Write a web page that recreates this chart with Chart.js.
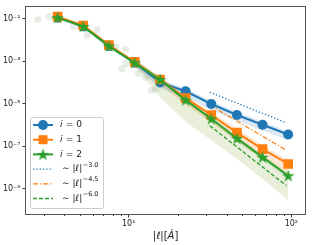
<!DOCTYPE html>
<html>
<head>
<meta charset="utf-8">
<script src="https://cdn.jsdelivr.net/npm/chart.js@4.4.0/dist/chart.umd.min.js"></script>
<style>
  html, body { margin: 0; padding: 0; background: #fff; }
  #wrap { width: 312px; height: 245px; }
</style>
</head>
<body>
<div id="wrap"><canvas id="myChart" width="312" height="245"></canvas></div>
<script>
// |l| in Angstrom, shared by the three series
const ellValues = [3.66, 5.26, 7.56, 10.9, 15.6, 22.4, 32.2, 46.3, 66.5, 95.6];
const series0 = [0.111, 0.0427, 0.00507, 8.3e-4, 9.9e-5, 3.8e-5, 9.5e-6, 2.9e-6, 1.0e-6, 3.5e-7];
const series1 = [0.124, 0.0474, 0.00564, 9.2e-4, 1.36e-4, 1.8e-5, 2.9e-6, 4.3e-7, 7.1e-8, 1.43e-8];
const series2 = [0.111, 0.0427, 0.00507, 8.3e-4, 1.36e-4, 1.45e-5, 1.92e-6, 2.28e-7, 3.0e-8, 4.0e-9];

// spread bands, from the 4th point on
const bandX = [10.9, 15.6, 22.4, 32.2, 46.3, 66.5, 95.6];
const band0Hi = [1.14e-3, 1.36e-4, 5.2e-5, 1.31e-5, 4.05e-6, 1.40e-6, 4.8e-7];
const band0Lo = [5.4e-4, 5.2e-5, 2.0e-5, 5.0e-6, 1.55e-6, 5.35e-7, 1.85e-7];
const band1Hi = [1.27e-3, 1.87e-4, 2.47e-5, 4.05e-6, 6.6e-7, 1.08e-7, 2.19e-8];
const band1Lo = [6.0e-4, 7.2e-5, 8.5e-6, 1.25e-6, 1.66e-7, 2.44e-8, 4.0e-9];
const band2Hi = [1.14e-3, 1.87e-4, 2.0e-5, 2.64e-6, 3.14e-7, 4.15e-8, 5.5e-9];
const band2Lo = [6.0e-4, 9.9e-5, 1.05e-5, 1.40e-6, 1.66e-7, 2.19e-8, 2.9e-9];
// faint cloud of single samples under the i=2 curve
const cloudTop = [8.3e-4, 1.36e-4, 1.45e-5, 1.92e-6, 2.28e-7, 3.0e-8, 4.0e-9];
const cloudLow = [6.0e-4, 2.0e-5, 1.40e-6, 1.85e-7, 2.44e-8, 2.9e-9, 2.8e-10];
// scattered faint samples at small |l|
const faintX = [2.77, 3.23, 4.58, 5.56, 6.40, 8.34, 9.59, 9.59, 9.07, 11.5, 12.7, 13.8, 14.6];
const faintY = [0.090, 0.124, 0.0427, 0.0164, 0.031, 0.00456, 0.00368, 7.5e-4, 4.4e-4, 2.57e-4, 1.68e-4, 4.2e-5, 4.7e-5];

// power law guides
const guideX = [31.5, 93];
const guide30 = [3.4e-5, 1.25e-6];
const guide45 = [8.5e-6, 6.35e-8];
const guide60 = [9.1e-7, 1.38e-9];

const xTicks = [10, 100];
const xTickLabels = ['10¹', '10²'];
const xMinorTicks = [3, 4, 5, 6, 7, 8, 9, 20, 30, 40, 50, 60, 70, 80, 90];
const yTicks = [1e-9, 1e-7, 1e-5, 1e-3, 1e-1];
const yTickLabels = ['10⁻⁹', '10⁻⁷', '10⁻⁵', '10⁻³', '10⁻¹'];

const BLUE = '#1f77b4';
const ORANGE = '#ff7f0e';
const GREEN = '#2ca02c';

Chart.defaults.font.family = "'DejaVu Sans', sans-serif";
Chart.defaults.color = '#222';

function pts(xs, ys) {
    return xs.map((x, i) => ({ x: x, y: ys[i] }));
}

function makeStar(color, size) {
    const c = document.createElement('canvas');
    c.width = size;
    c.height = size;
    const g = c.getContext('2d');
    const R = size / 2, r = R * 0.4;
    g.beginPath();
    for (let k = 0; k < 10; k++) {
        const rad = k % 2 === 0 ? R : r;
        const a = -Math.PI / 2 + k * Math.PI / 5;
        const px = R + rad * Math.cos(a), py = R + 0.5 + rad * Math.sin(a);
        if (k === 0) g.moveTo(px, py); else g.lineTo(px, py);
    }
    g.closePath();
    g.fillStyle = color;
    g.fill();
    return c;
}
const starImg = makeStar(GREEN, 13);

function bandPair(hi, lo, fillColor, order) {
    return [
        { data: pts(bandX, hi), borderWidth: 0, pointRadius: 0, fill: false, order: order },
        { data: pts(bandX, lo), borderWidth: 0, pointRadius: 0, fill: '-1', backgroundColor: fillColor, order: order }
    ];
}

const frameAndTicks = {
    id: 'frameAndTicks',
    afterDatasetsDraw(chart) {
        const { ctx, chartArea: a, scales } = chart;
        ctx.save();
        ctx.strokeStyle = '#333';
        ctx.lineWidth = 1;
        ctx.beginPath();
        xMinorTicks.forEach(v => {
            const px = Math.round(scales.x.getPixelForValue(v)) + 0.5;
            ctx.moveTo(px, a.bottom);
            ctx.lineTo(px, a.bottom + 2);
        });
        ctx.stroke();
        ctx.strokeStyle = '#555';
        ctx.strokeRect(Math.round(a.left) - 0.5, Math.round(a.top) - 0.5,
            Math.round(a.right - a.left) + 1, Math.round(a.bottom - a.top) + 1);
        // axis title
        ctx.fillStyle = '#222';
        ctx.textBaseline = 'middle';
        const cx = (a.left + a.right) / 2;
        const parts = [['|', 'normal'], ['ℓ', 'italic'], ['|[', 'normal'], ['Ȧ', 'italic'], [']', 'normal']];
        let total = 0;
        parts.forEach(p => { ctx.font = p[1] + " 10px 'DejaVu Sans'"; total += ctx.measureText(p[0]).width; });
        let tx = cx - total / 2;
        ctx.textAlign = 'left';
        parts.forEach(p => {
            ctx.font = p[1] + " 10px 'DejaVu Sans'";
            ctx.fillText(p[0], tx, 236);
            tx += ctx.measureText(p[0]).width;
        });
        ctx.restore();
    }
};

const legendEntries = [
    { color: BLUE, marker: 'circle', dash: [], label: '0' },
    { color: ORANGE, marker: 'square', dash: [], label: '1' },
    { color: GREEN, marker: 'star', dash: [], label: '2' },
    { color: BLUE, marker: null, dash: [1.3, 2], label: '−3.0' },
    { color: ORANGE, marker: null, dash: [5, 2, 1.3, 2], label: '−4.5' },
    { color: GREEN, marker: null, dash: [4, 2], label: '−6.0' }
];

const boxLegend = {
    id: 'boxLegend',
    afterDraw(chart) {
        const ctx = chart.ctx;
        const bx = 30.5, by = 117.5, bw = 73, bh = 91;
        ctx.save();
        ctx.beginPath();
        ctx.roundRect(bx, by, bw, bh, 2);
        ctx.fillStyle = 'rgba(255,255,255,0.8)';
        ctx.fill();
        ctx.strokeStyle = '#cccccc';
        ctx.lineWidth = 1;
        ctx.stroke();
        legendEntries.forEach((e, i) => {
            const y = 125 + i * 14.7;
            ctx.strokeStyle = e.color;
            ctx.fillStyle = e.color;
            ctx.lineWidth = e.marker ? 2 : 1.3;
            ctx.setLineDash(e.dash);
            ctx.beginPath();
            ctx.moveTo(33, y);
            ctx.lineTo(53, y);
            ctx.stroke();
            ctx.setLineDash([]);
            if (e.marker === 'circle') {
                ctx.beginPath();
                ctx.arc(43, y, 5, 0, Math.PI * 2);
                ctx.fill();
            } else if (e.marker === 'square') {
                ctx.fillRect(38.5, y - 4.5, 9, 9);
            } else if (e.marker === 'star') {
                ctx.drawImage(starImg, 43 - starImg.width / 2, y - starImg.height / 2);
            }
            ctx.fillStyle = '#222';
            ctx.textBaseline = 'middle';
            ctx.textAlign = 'left';
            if (e.marker) {
                ctx.font = "italic 9px 'DejaVu Sans'";
                ctx.fillText('i', 60, y);
                ctx.font = "9px 'DejaVu Sans'";
                ctx.fillText(' = ' + e.label, 63, y);
            } else {
                ctx.font = "9px 'DejaVu Sans'";
                ctx.fillText('∼ |', 62, y);
                let tx = 62 + ctx.measureText('∼ |').width;
                ctx.font = "italic 9px 'DejaVu Sans'";
                ctx.fillText('ℓ', tx, y);
                tx += ctx.measureText('ℓ').width;
                ctx.font = "9px 'DejaVu Sans'";
                ctx.fillText('|', tx, y);
                tx += ctx.measureText('|').width;
                ctx.font = "6.5px 'DejaVu Sans'";
                ctx.fillText(e.label, tx + 0.5, y - 4);
            }
        });
        ctx.restore();
    }
};

const datasets = [
    ...bandPair(band0Hi, band0Lo, 'rgba(31,119,180,0.17)', 6),
    ...bandPair(band1Hi, band1Lo, 'rgba(255,127,14,0.17)', 6),
    { data: pts(bandX, cloudTop), borderWidth: 0, pointRadius: 0, fill: false, order: 7 },
    { data: pts(bandX, cloudLow), borderWidth: 0, pointRadius: 0, fill: '-1', backgroundColor: 'rgba(150,175,80,0.2)', order: 7 },
    ...bandPair(band2Hi, band2Lo, 'rgba(44,160,44,0.17)', 6),
    { data: pts(faintX, faintY), showLine: false, pointRadius: 3.5, pointBorderWidth: 0,
      pointBackgroundColor: 'rgba(150,175,140,0.22)', order: 5 },
    { data: pts(guideX, guide30), borderColor: BLUE, borderWidth: 1.3, borderDash: [1.3, 2], pointRadius: 0, fill: false, order: 4 },
    { data: pts(guideX, guide45), borderColor: ORANGE, borderWidth: 1.3, borderDash: [5, 2, 1.3, 2], pointRadius: 0, fill: false, order: 4 },
    { data: pts(guideX, guide60), borderColor: GREEN, borderWidth: 1.3, borderDash: [4, 2], pointRadius: 0, fill: false, order: 4 },
    { data: pts(ellValues, series0), borderColor: BLUE, backgroundColor: BLUE, borderWidth: 2,
      pointStyle: 'circle', pointRadius: 5, pointBorderWidth: 0, fill: false, order: 2 },
    { data: pts(ellValues, series1), borderColor: ORANGE, backgroundColor: ORANGE, borderWidth: 2,
      pointStyle: 'rect', pointRadius: 6.8, pointBorderWidth: 0, fill: false, order: 1 },
    { data: pts(ellValues, series2), borderColor: GREEN, backgroundColor: GREEN, borderWidth: 2,
      pointStyle: starImg, pointRadius: 6, pointBorderWidth: 0, fill: false, order: 0 }
];

new Chart(document.getElementById('myChart'), {
    type: 'line',
    data: { datasets: datasets },
    options: {
        responsive: false,
        animation: false,
        devicePixelRatio: 1,
        layout: { padding: { top: 3, right: 3, left: 0, bottom: 0 } },
        plugins: { legend: { display: false }, tooltip: { enabled: false } },
        elements: { line: { tension: 0 } },
        scales: {
            x: {
                type: 'logarithmic',
                min: 2.34,
                max: 121.6,
                bounds: 'data',
                afterBuildTicks: s => { s.ticks = xTicks.map(v => ({ value: v })); },
                afterFit: s => { s.height = 31; },
                grid: { display: true, drawOnChartArea: false, tickLength: 3.5, tickColor: '#333' },
                border: { display: false },
                ticks: {
                    autoSkip: false, maxRotation: 0, padding: 2,
                    font: { size: 8 },
                    callback: v => { const k = xTicks.indexOf(v); return k >= 0 ? xTickLabels[k] : ''; }
                }
            },
            y: {
                type: 'logarithmic',
                min: 6.3e-11,
                max: 0.359,
                bounds: 'data',
                afterBuildTicks: s => { s.ticks = yTicks.map(v => ({ value: v })); },
                afterFit: s => { s.width = 26; },
                grid: { display: true, drawOnChartArea: false, tickLength: 3.5, tickColor: '#333' },
                border: { display: false },
                ticks: {
                    autoSkip: false, padding: 2,
                    font: { size: 8 },
                    callback: v => { const k = yTicks.indexOf(v); return k >= 0 ? yTickLabels[k] : ''; }
                }
            }
        }
    },
    plugins: [frameAndTicks, boxLegend]
});
</script>
</body>
</html>
